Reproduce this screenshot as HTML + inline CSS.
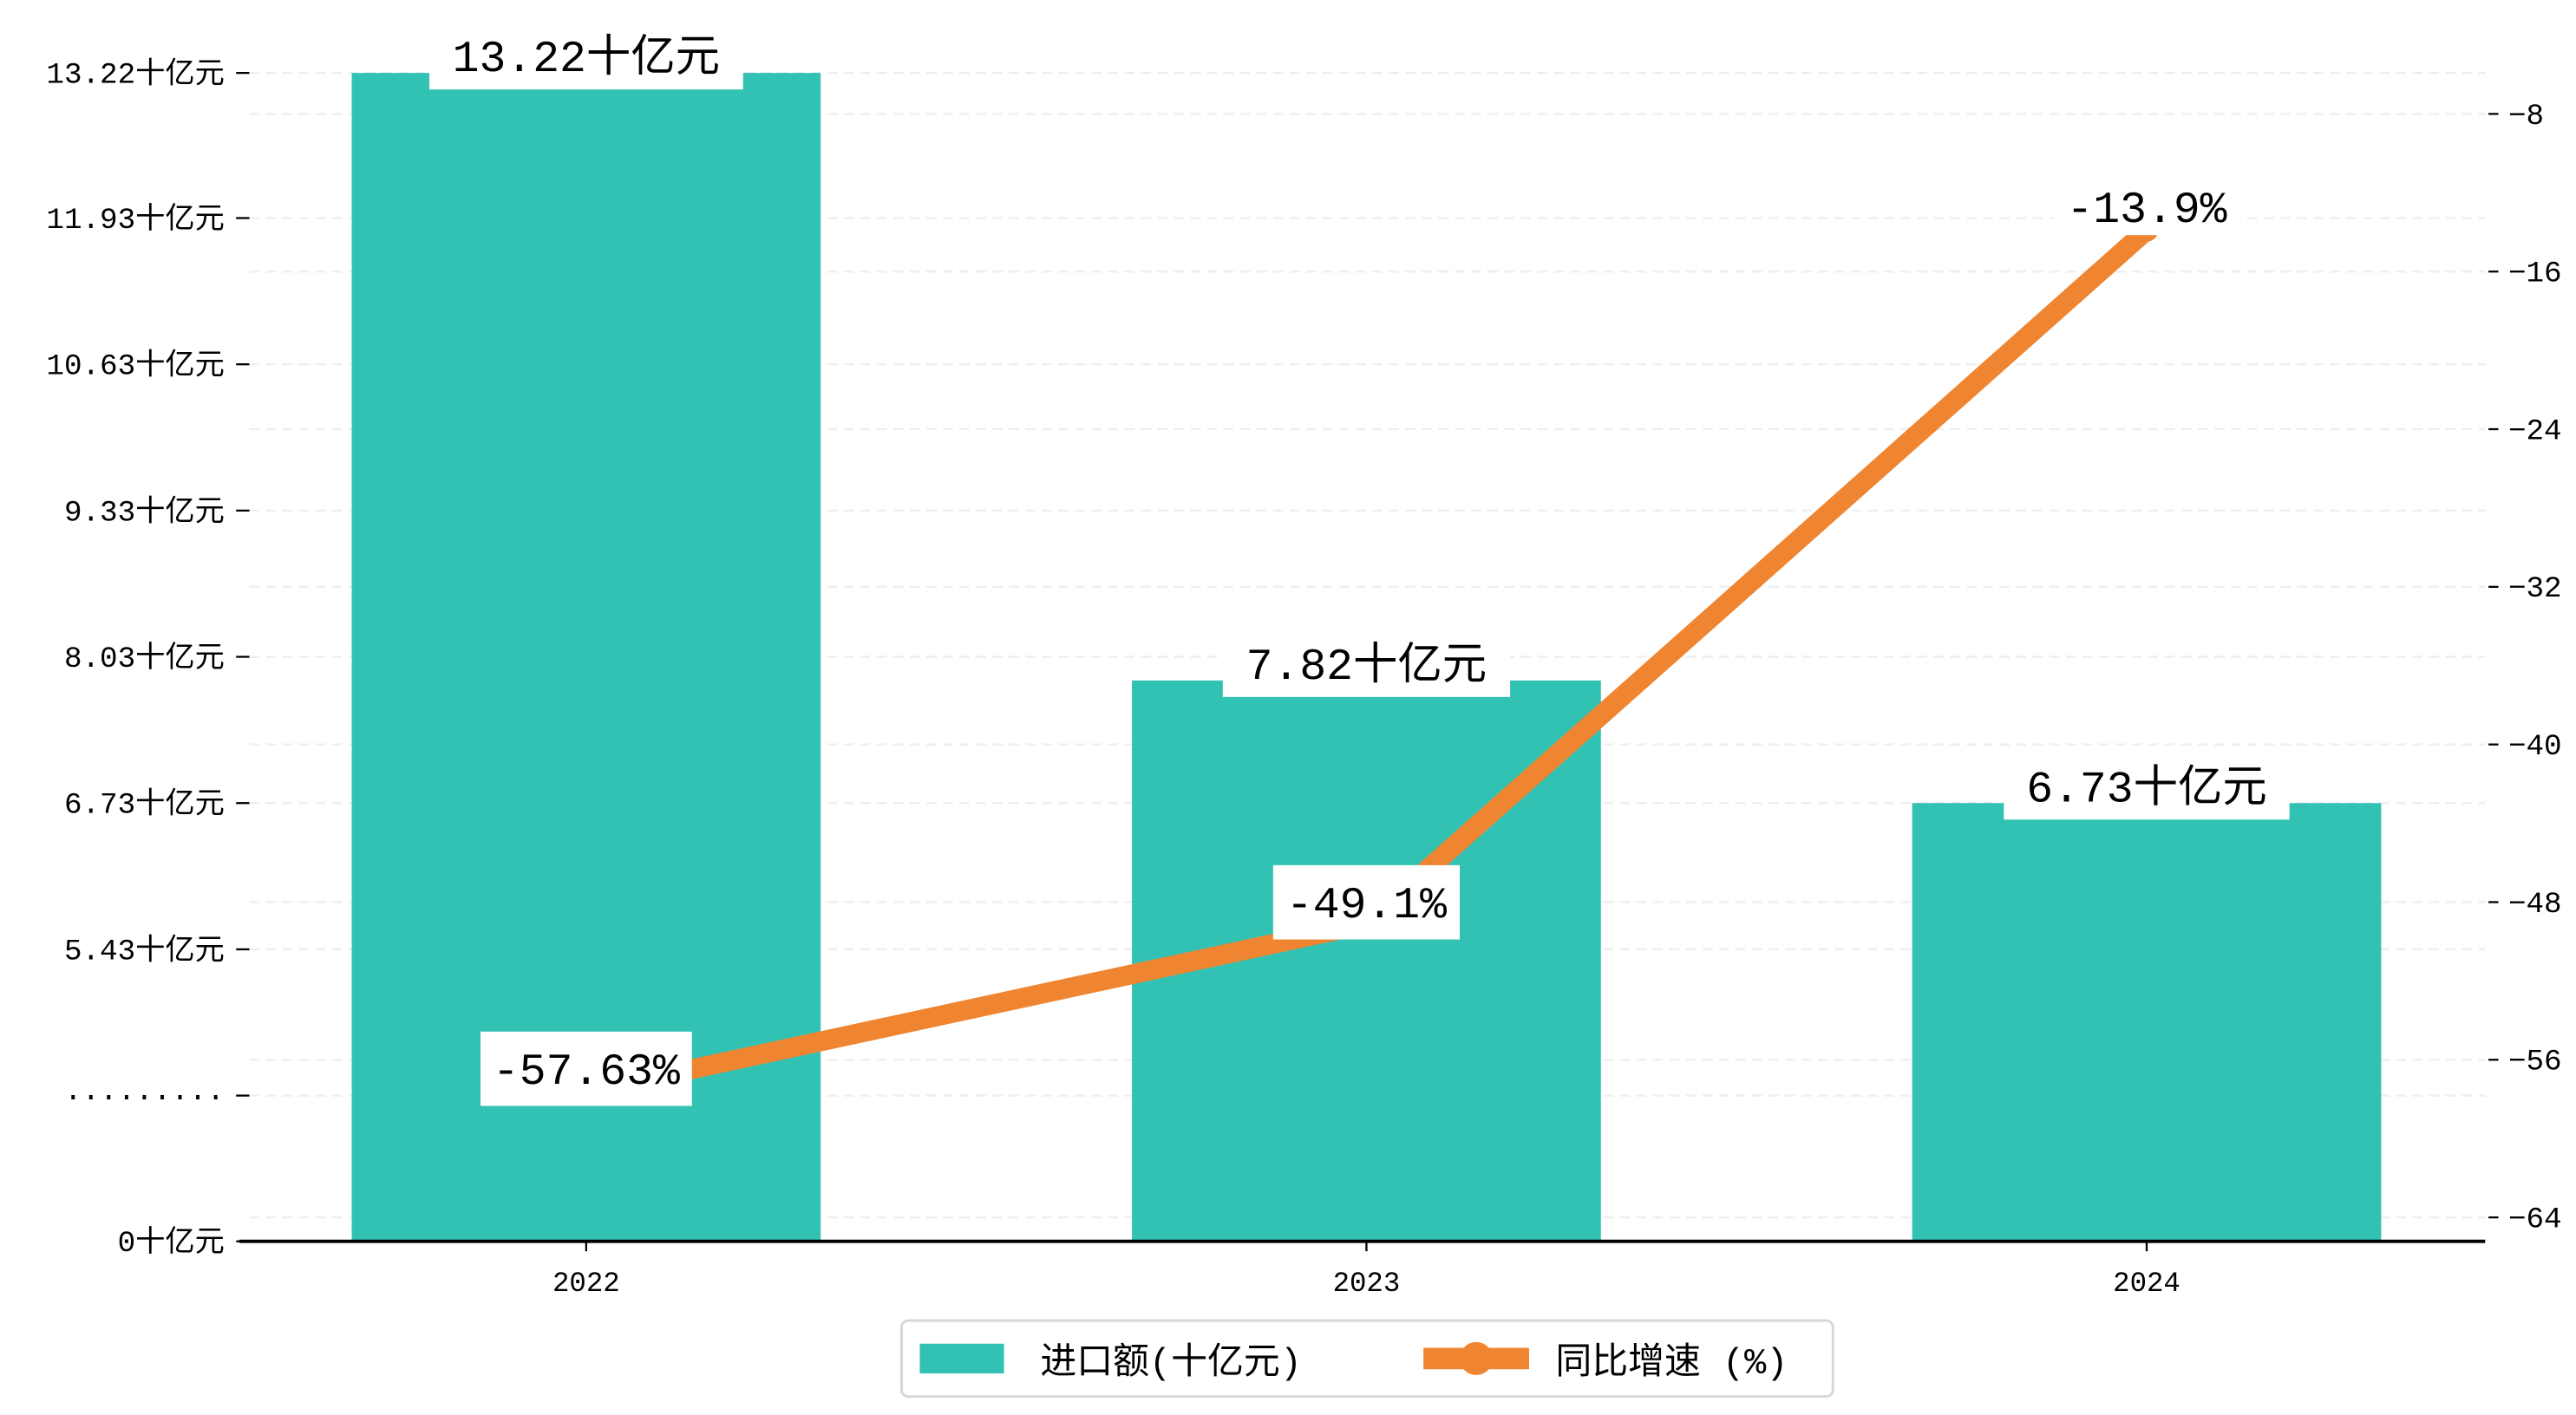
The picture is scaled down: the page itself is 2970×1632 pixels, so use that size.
<!DOCTYPE html>
<html><head><meta charset="utf-8"><style>
html,body{margin:0;padding:0;background:#fff;}
svg{display:block;}
text{font-family:"Liberation Mono","Noto Sans CJK SC",monospace;fill:#000;}
</style></head><body>
<svg id="chart" width="2970" height="1632" viewBox="0 0 1560 857.2" xmlns="http://www.w3.org/2000/svg">
<g id="grid"></g>
<g id="bars"></g>
<g id="line"></g>
<g id="axes"></g>
<g id="labels"></g>
<g>
  <rect x="546" y="800" width="564" height="46" rx="4" fill="#fff" stroke="#d6d6d6" stroke-width="1.5"/>
  <rect x="557" y="814" width="51" height="18" fill="#32c2b4"/>
  <text x="630" y="832" font-size="22">进口额(十亿元)</text>
  <line x1="862" y1="823" x2="926" y2="823" stroke="#ef8531" stroke-width="13"/>
  <circle cx="894" cy="823" r="10" fill="#ef8531"/>
  <text x="942" y="832" font-size="22">同比增速 (%)</text>
</g>
</svg>
<script>
const categories = ["2022","2023","2024"];
const importValues = [13.22, 7.82, 6.73];
const growthValues = [-57.63, -49.1, -13.9];
const importLabels = ["13.22十亿元","7.82十亿元","6.73十亿元"];
const growthLabels = ["-57.63%","-49.1%","-13.9%"];
const leftTickValues = [0, 4.13, 5.43, 6.73, 8.03, 9.33, 10.63, 11.93, 13.22];
const leftTickLabels = ["0十亿元","·········","5.43十亿元","6.73十亿元","8.03十亿元","9.33十亿元","10.63十亿元","11.93十亿元","13.22十亿元"];
const rightTickValues = [-64,-56,-48,-40,-32,-24,-16,-8];

const NS="http://www.w3.org/2000/svg";
function mk(tag, attrs, parent){const e=document.createElementNS(NS,tag);for(const k in attrs)e.setAttribute(k,attrs[k]);parent.appendChild(e);return e;}
const X0=151, X1=1505;
function xPos(i){return 355+i*472.5;}
function yLeft(v){
  if(v<=4.13) return 752 - v/4.13*88.3;
  return 663.7 - (v-4.13)/1.3*88.6;
}
function yRight(v){return 69 + (-8 - v)/8*95.5;}
const grid=document.getElementById('grid'),bars=document.getElementById('bars'),line=document.getElementById('line'),axes=document.getElementById('axes'),labels=document.getElementById('labels');

leftTickValues.forEach((v,i)=>{
  const y=yLeft(v);
  if(i>0){const g=mk('line',{x1:X0,x2:X1,y1:y,y2:y,stroke:'#eeeeee','stroke-width':1.2,'stroke-dasharray':'6,4'},grid);
  
  }
  mk('line',{x1:143,x2:151,y1:y,y2:y,stroke:'#000','stroke-width':1.2},axes);
  const t=mk('text',{x:136,y:y+6,'text-anchor':'end','font-size':18},axes);
  t.textContent=leftTickLabels[i];
  
  
});
rightTickValues.forEach(v=>{
  const y=yRight(v);
  const g=mk('line',{x1:X0,x2:X1,y1:y,y2:y,stroke:'#eeeeee','stroke-width':1.2,'stroke-dasharray':'6,4'},grid);
  
  
  mk('line',{x1:1507,x2:1513,y1:y,y2:y,stroke:'#000','stroke-width':1.2},axes);
  const t=mk('text',{x:1519,y:y+6,'font-size':18},axes);
  t.textContent=String(v).replace('-','−');
  
  
});
categories.forEach((c,i)=>{
  const x=xPos(i), y=yLeft(importValues[i]);
  const r=mk('rect',{x:x-142,y:y,width:284,height:752-y,fill:'#32c2b4'},bars);
  
  
  mk('line',{x1:x,x2:x,y1:752,y2:758,stroke:'#000','stroke-width':1.2},axes);
  const t=mk('text',{x:x,y:782,'text-anchor':'middle','font-size':17},axes);
  t.textContent=c;
  
  
});
mk('line',{x1:145,x2:X1,y1:752,y2:752,stroke:'#000','stroke-width':2},axes);

const pts=categories.map((c,i)=>xPos(i)+','+yRight(growthValues[i])).join(' ');
const pl=mk('polyline',{points:pts,fill:'none',stroke:'#ef8531','stroke-width':12,'stroke-linejoin':'round'},line);


categories.forEach((c,i)=>{
  const p=mk('circle',{cx:xPos(i),cy:yRight(growthValues[i]),r:7,fill:'#ef8531'},line);
  
  
});

function boxLabel(txt,x,y,w,h,name){
  const r=mk('rect',{x:x-w/2,y:y-h/2,width:w,height:h,fill:'#fff'},labels);
  const t=mk('text',{x:x,y:y+9,'text-anchor':'middle','font-size':27},labels);
  t.textContent=txt;
  
  
}
categories.forEach((c,i)=>{
  const x=xPos(i), y=yLeft(importValues[i]);
  boxLabel(importLabels[i],x,y-10,[190,174,173][i],40,'bar-value-label');
});
categories.forEach((c,i)=>{
  const x=xPos(i), y=yRight(growthValues[i]);
  const dy=[-14,-13,-15][i];
  const w=[128,113,112][i];
  if(i==2){boxLabel(growthLabels[i],x,y-14,w,34,'growth-value-label');}
  else boxLabel(growthLabels[i],x,y+dy,w,45,'growth-value-label');
});
</script>
</body></html>
